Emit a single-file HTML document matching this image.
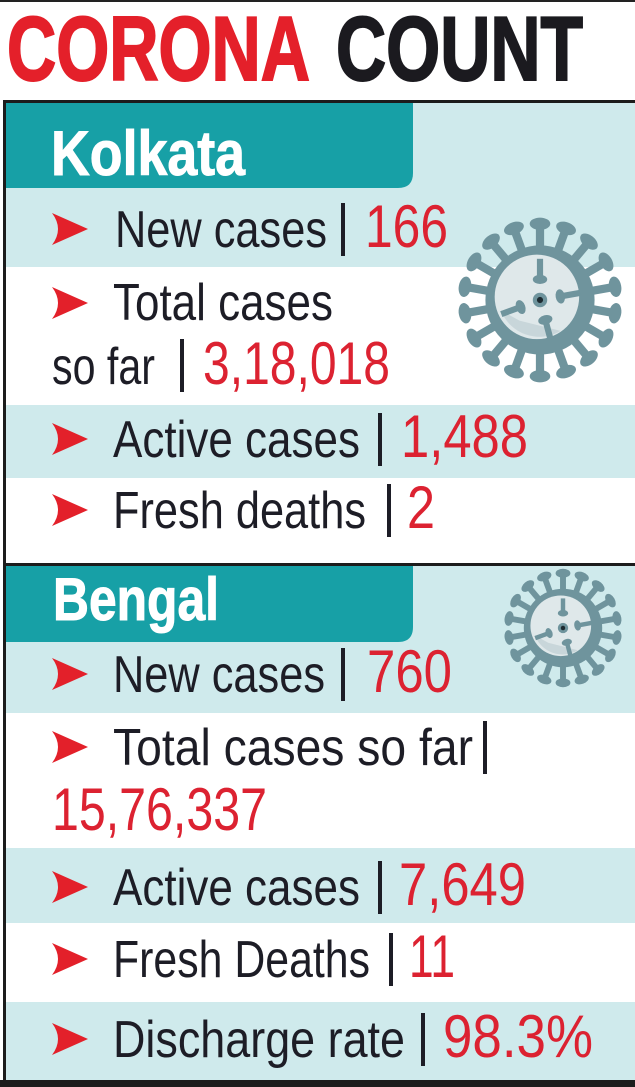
<!DOCTYPE html>
<html>
<head>
<meta charset="utf-8">
<style>
  html,body{margin:0;padding:0;background:#fff;}
  svg{display:block;}
</style>
</head>
<body>
<svg width="635" height="1087" viewBox="0 0 635 1087" xmlns="http://www.w3.org/2000/svg">
  <defs>
    <g id="spike">
      <line x1="0" y1="-46" x2="0" y2="-71" stroke="#6f949d" stroke-width="8"/>
      <ellipse cx="0" cy="-74" rx="10" ry="6" fill="#6f949d"/>
    </g>
    <g id="inspike">
      <line x1="0" y1="-40" x2="0" y2="-22" stroke="#6f949d" stroke-width="6"/>
      <ellipse cx="0" cy="-20" rx="7" ry="4.5" fill="#6f949d"/>
    </g>
    <g id="virus">
      <use href="#spike" transform="rotate(0)"/>
      <use href="#spike" transform="rotate(20)"/>
      <use href="#spike" transform="rotate(40)"/>
      <use href="#spike" transform="rotate(60)"/>
      <use href="#spike" transform="rotate(80)"/>
      <use href="#spike" transform="rotate(100)"/>
      <use href="#spike" transform="rotate(120)"/>
      <use href="#spike" transform="rotate(140)"/>
      <use href="#spike" transform="rotate(160)"/>
      <use href="#spike" transform="rotate(180)"/>
      <use href="#spike" transform="rotate(200)"/>
      <use href="#spike" transform="rotate(220)"/>
      <use href="#spike" transform="rotate(240)"/>
      <use href="#spike" transform="rotate(260)"/>
      <use href="#spike" transform="rotate(280)"/>
      <use href="#spike" transform="rotate(300)"/>
      <use href="#spike" transform="rotate(320)"/>
      <use href="#spike" transform="rotate(340)"/>
      <circle cx="0" cy="0" r="53" fill="#6f949d"/>
      <circle cx="-3" cy="-3" r="41" fill="#dfe8ea"/>
      <path d="M 20 30 A 40 40 0 0 1 -38 10 L -20 20 Z" fill="#b9cacf" opacity="0.6"/>
      <use href="#inspike" transform="rotate(0)"/>
      <use href="#inspike" transform="rotate(80)"/>
      <use href="#inspike" transform="rotate(165)"/>
      <use href="#inspike" transform="rotate(250)"/>
      <circle cx="0" cy="0" r="7" fill="#6f949d"/>
      <circle cx="0" cy="0" r="3" fill="#1d2a30"/>
    </g>
  </defs>

  <!-- top strip -->
  <rect x="0" y="0" width="635" height="2" fill="#222"/>

  <!-- Title -->
  <text x="7" y="80" font-family="Liberation Sans, sans-serif" font-weight="bold" font-size="91" fill="#e4202a" stroke="#e4202a" stroke-width="2" textLength="303" lengthAdjust="spacingAndGlyphs">CORONA</text>
  <text x="336" y="80" font-family="Liberation Sans, sans-serif" font-weight="bold" font-size="91" fill="#1b1a1f" stroke="#1b1a1f" stroke-width="2" textLength="247" lengthAdjust="spacingAndGlyphs">COUNT</text>

  <!-- Backgrounds Kolkata -->
  <rect x="6" y="103" width="629" height="164" fill="#cfeaec"/>
  <rect x="6" y="405" width="629" height="73" fill="#cfeaec"/>
  <path d="M6 103 H413 V173 Q413 188 398 188 H6 Z" fill="#17a0a6"/>

  <!-- Backgrounds Bengal -->
  <rect x="6" y="566" width="629" height="147" fill="#cfeaec"/>
  <rect x="6" y="848" width="629" height="75" fill="#cfeaec"/>
  <rect x="6" y="1002" width="629" height="78" fill="#cfeaec"/>
  <path d="M6 566 H413 V627 Q413 642 398 642 H6 Z" fill="#17a0a6"/>

  <!-- Borders -->
  <rect x="3" y="100" width="632" height="3" fill="#1c1c1c"/>
  <rect x="3" y="100" width="3" height="987" fill="#1c1c1c"/>
  <rect x="3" y="563" width="632" height="3" fill="#1c1c1c"/>
  <rect x="0" y="1080" width="635" height="7" fill="#1c1c1c"/>

  <!-- Viruses -->
  <g transform="translate(540,300) scale(1.03)"><use href="#virus"/></g>
  <g transform="translate(563,628) scale(0.74)"><use href="#virus"/></g>

  <!-- Headers -->
  <text x="51" y="175" font-family="Liberation Sans, sans-serif" font-weight="bold" font-size="63" fill="#fff" stroke="#fff" stroke-width="1" textLength="194" lengthAdjust="spacingAndGlyphs">Kolkata</text>
  <text x="53" y="620" font-family="Liberation Sans, sans-serif" font-weight="bold" font-size="60" fill="#fff" stroke="#fff" stroke-width="1" textLength="166" lengthAdjust="spacingAndGlyphs">Bengal</text>

  <g font-family="Liberation Sans, sans-serif">
    <!-- Arrows -->
    <g fill="#e3202a">
      <path d="M52 213 L88 229 L52 245 Q64 229 52 213 Z"/>
      <path d="M52 287 L88 303 L52 319 Q64 303 52 287 Z"/>
      <path d="M52 423 L88 439 L52 455 Q64 439 52 423 Z"/>
      <path d="M52 494 L88 510 L52 526 Q64 510 52 494 Z"/>
      <path d="M52 658 L88 674 L52 690 Q64 674 52 658 Z"/>
      <path d="M52 731 L88 747 L52 763 Q64 747 52 731 Z"/>
      <path d="M52 871 L88 887 L52 903 Q64 887 52 871 Z"/>
      <path d="M52 943 L88 959 L52 975 Q64 959 52 943 Z"/>
      <path d="M52 1023 L88 1039 L52 1055 Q64 1039 52 1023 Z"/>
    </g>

    <!-- Bars -->
    <g fill="#1d1d26">
      <rect x="341" y="203" width="4" height="53"/>
      <rect x="180" y="339" width="4" height="53"/>
      <rect x="378" y="413" width="4" height="53"/>
      <rect x="387" y="484" width="4" height="53"/>
      <rect x="341" y="648" width="4" height="53"/>
      <rect x="483" y="721" width="4" height="53"/>
      <rect x="378" y="861" width="4" height="53"/>
      <rect x="389" y="933" width="4" height="53"/>
      <rect x="421" y="1013" width="4" height="53"/>
    </g>

    <!-- Labels -->
    <g font-size="52" fill="#1d1d26">
      <text x="115" y="247" textLength="212" lengthAdjust="spacingAndGlyphs">New cases</text>
      <text x="113" y="320" textLength="220" lengthAdjust="spacingAndGlyphs">Total cases</text>
      <text x="52" y="384" textLength="103" lengthAdjust="spacingAndGlyphs">so far</text>
      <text x="113" y="457" textLength="247" lengthAdjust="spacingAndGlyphs">Active cases</text>
      <text x="113" y="528" textLength="253" lengthAdjust="spacingAndGlyphs">Fresh deaths</text>
      <text x="113" y="692" textLength="212" lengthAdjust="spacingAndGlyphs">New cases</text>
      <text x="113" y="765" textLength="360" lengthAdjust="spacingAndGlyphs">Total cases so far</text>
      <text x="113" y="905" textLength="247" lengthAdjust="spacingAndGlyphs">Active cases</text>
      <text x="113" y="977" textLength="257" lengthAdjust="spacingAndGlyphs">Fresh Deaths</text>
      <text x="113" y="1057" textLength="292" lengthAdjust="spacingAndGlyphs">Discharge rate</text>
    </g>

    <!-- Numbers -->
    <g font-size="60" fill="#dc2231">
      <text x="365" y="247" textLength="83" lengthAdjust="spacingAndGlyphs">166</text>
      <text x="203" y="384" textLength="187" lengthAdjust="spacingAndGlyphs">3,18,018</text>
      <text x="401" y="457" textLength="127" lengthAdjust="spacingAndGlyphs">1,488</text>
      <text x="407" y="528" textLength="28" lengthAdjust="spacingAndGlyphs">2</text>
      <text x="367" y="692" textLength="85" lengthAdjust="spacingAndGlyphs">760</text>
      <text x="52" y="830" textLength="215" lengthAdjust="spacingAndGlyphs">15,76,337</text>
      <text x="399" y="905" textLength="127" lengthAdjust="spacingAndGlyphs">7,649</text>
      <text x="409" y="977" textLength="46" lengthAdjust="spacingAndGlyphs">11</text>
      <text x="443" y="1057" textLength="150" lengthAdjust="spacingAndGlyphs">98.3%</text>
    </g>
  </g>
</svg>
</body>
</html>
